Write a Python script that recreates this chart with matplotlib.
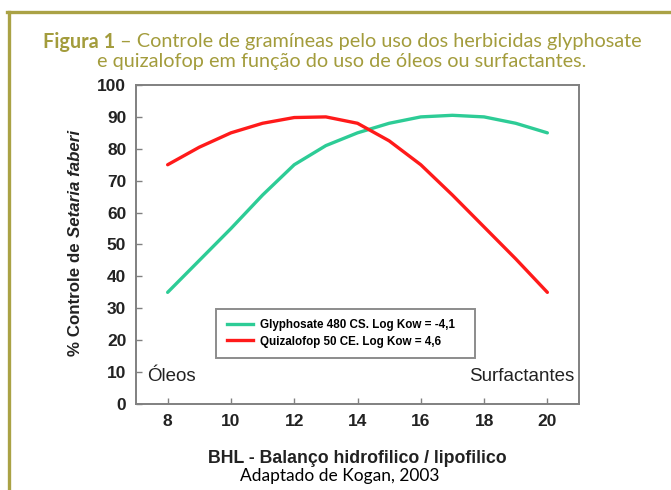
import matplotlib
matplotlib.use("Agg")
import matplotlib.pyplot as plt
from matplotlib.lines import Line2D

# ---- data ----
bhl = [8, 9, 10, 11, 12, 13, 14, 15, 16, 17, 18, 19, 20]
glyphosate = [35, 45, 55, 65.5, 75, 81, 85, 88, 90, 90.5, 90, 88, 85]
quizalofop = [75, 80.5, 85, 88, 89.8, 90, 88, 82.5, 75, 65.5, 55.5, 45.5, 35]
x_ticks = [8, 10, 12, 14, 16, 18, 20]
y_ticks = [0, 10, 20, 30, 40, 50, 60, 70, 80, 90, 100]
series_labels = ["Glyphosate 480 CS. Log Kow = -4,1", "Quizalofop 50 CE. Log Kow = 4,6"]

GREEN = "#2dcc96"
RED = "#ff1a1a"
OLIVE = "#a39c3c"
BORDER = "#aaa245"

W, H = 671, 490
fig = plt.figure(figsize=(W / 100, H / 100), dpi=100)

# frame border (top and left)
fig.add_artist(Line2D([8.5 / W, 8.5 / W], [0, 1 - 12.5 / H], color=BORDER, lw=2.4, transform=fig.transFigure))
fig.add_artist(Line2D([7.3 / W, 1], [1 - 12.5 / H, 1 - 12.5 / H], color=BORDER, lw=2.4, transform=fig.transFigure))

# title
TS = 14.3
t1 = fig.text(0, 1 - 42 / H, "Figura 1", color=OLIVE, fontsize=TS, fontweight="bold",
              family="Lato", va="center", ha="left")
t1b = fig.text(0, 1 - 42 / H, " – Controle de gramíneas pelo uso dos herbicidas glyphosate",
               color=OLIVE, fontsize=TS, family="Lato", va="center", ha="left")
fig.canvas.draw()
r = fig.canvas.get_renderer()
w1 = t1.get_window_extent(r).width
w2 = t1b.get_window_extent(r).width
x0 = 342 - (w1 + w2) / 2
t1.set_x(x0 / W)
t1b.set_x((x0 + w1) / W)
fig.text(342 / W, 1 - 61 / H, "e quizalofop em função do uso de óleos ou surfactantes.",
         color=OLIVE, fontsize=TS, family="Lato", va="center", ha="center")

ax = fig.add_axes([136 / W, 1 - 404 / H, (579 - 136) / W, (404 - 85) / H])
ax.plot(bhl, glyphosate, color=GREEN, lw=2.4, solid_capstyle="round")
ax.plot(bhl, quizalofop, color=RED, lw=2.4, solid_capstyle="round")
ax.set_xlim(7, 21)
ax.set_ylim(0, 100)
ax.set_xticks(x_ticks)
ax.set_yticks(y_ticks)
for s in ax.spines.values():
    s.set_color("#808080")
    s.set_linewidth(1.4)
ax.tick_params(direction="in", length=4, color="#808080", width=1,
               labelsize=12.5, pad=7)
for lab in ax.get_xticklabels() + ax.get_yticklabels():
    lab.set_fontweight("bold")
    lab.set_family("Liberation Sans")
    lab.set_color("#222222")

ax.text(7.35, 8.5, "Óleos", fontsize=13.5, family="Liberation Sans", va="center", ha="left", color="#222222")
ax.text(20.85, 8.5, "Surfactantes", fontsize=13.5, family="Liberation Sans", va="center", ha="right", color="#222222")

# legend
handles = [Line2D([], [], color=GREEN, lw=2.4), Line2D([], [], color=RED, lw=2.4)]
leg = ax.legend(handles, series_labels, loc="center", bbox_to_anchor=(9.53, 14.4, 17.7 - 9.53, 29.8 - 14.4),
                bbox_transform=ax.transData, mode="expand", fancybox=False,
                prop={"family": "Liberation Sans", "weight": "bold", "size": 8.4},
                handlelength=2.3, handletextpad=0.6, borderaxespad=0, labelspacing=0.35, borderpad=0.9)
leg.get_frame().set_edgecolor("#707070")
leg.get_frame().set_linewidth(1.4)

# axis labels
fig.text(357 / W, 1 - 458 / H, "BHL - Balanço hidrofilico / lipofilico", fontsize=12.8,
         fontweight="bold", family="Liberation Sans", ha="center", va="center", color="#222222")
fig.text(340 / W, 1 - 476 / H, "Adaptado de Kogan, 2003", fontsize=12.5,
         family="Lato", ha="center", va="center", color="black")

ya = fig.text(75 / W, 0, "% Controle de ", fontsize=12.2, fontweight="bold", rotation=90,
              family="Liberation Sans", ha="center", va="bottom", color="#222222")
yb = fig.text(75 / W, 0, "Setaria faberi", fontsize=12.2, fontweight="bold", style="italic",
              rotation=90, family="Liberation Sans", ha="center", va="bottom", color="#222222")
fig.canvas.draw()
ha_ = ya.get_window_extent(r).height
hb_ = yb.get_window_extent(r).height
bottom_px = (H - 243) - (ha_ + hb_) / 2
ya.set_y(bottom_px / H)
yb.set_y((bottom_px + ha_) / H)

fig.savefig("out.png", dpi=100)
